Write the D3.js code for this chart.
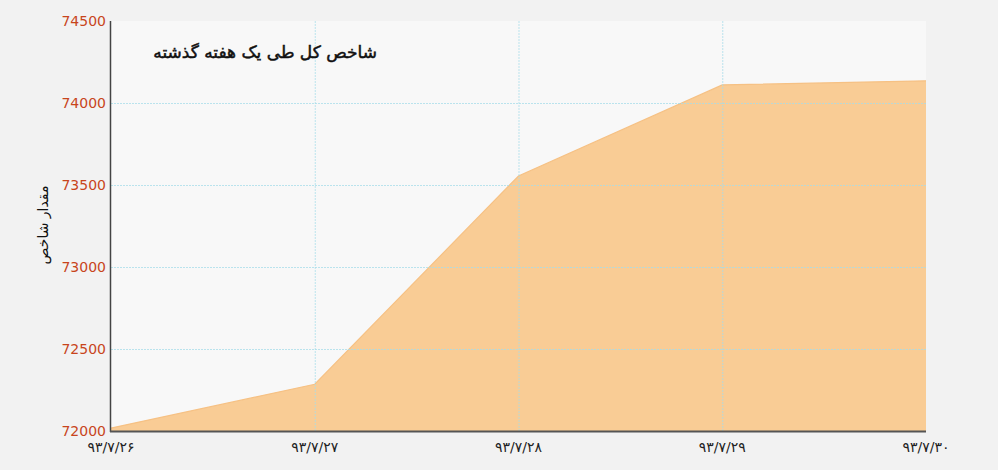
<!DOCTYPE html>
<html>
<head>
<meta charset="utf-8">
<script src="https://cdn.jsdelivr.net/npm/d3@7"></script>
<style>
  body { margin: 0; background: #f2f2f2; }
  svg { display: block; }
</style>
</head>
<body>
<svg></svg>
<script>
const dates = ["۹۳/۷/۲۶", "۹۳/۷/۲۷", "۹۳/۷/۲۸", "۹۳/۷/۲۹", "۹۳/۷/۳۰"];
const values = [72018, 72285, 73555, 74110, 74135];
const yTicks = [72000, 72500, 73000, 73500, 74000, 74500];

const width = 998, height = 470;
const margin = {top: 21, right: 72, bottom: 40, left: 111};

const svg = d3.select("svg").attr("width", width).attr("height", height);

const x = d3.scalePoint().domain(dates).range([margin.left, width - margin.right]);
const y = d3.scaleLinear().domain([72000, 74500]).range([height - margin.bottom + 1, margin.top]);

// plot background
svg.append("rect")
    .attr("x", margin.left).attr("y", margin.top)
    .attr("width", x.range()[1] - margin.left)
    .attr("height", y(72000) - margin.top)
    .attr("fill", "#f8f8f8");

const data = dates.map((d, i) => ({d, v: values[i]}));

const area = d3.area()
    .x(p => x(p.d))
    .y0(y(72000))
    .y1(p => y(p.v));

svg.append("path")
    .datum(data)
    .attr("d", area)
    .attr("fill", "#f9cc95");

svg.append("path")
    .datum(data)
    .attr("d", d3.line().x(p => x(p.d)).y(p => y(p.v)))
    .attr("fill", "none")
    .attr("stroke", "#f6c184")
    .attr("stroke-width", 1.2);

// grid
const grid = svg.append("g")
    .attr("stroke", "#a6dcea")
    .attr("stroke-opacity", 0.75)
    .attr("stroke-dasharray", "2,1");

grid.selectAll(".hg")
    .data(yTicks.slice(1, -1))
    .enter().append("line")
    .attr("x1", margin.left).attr("x2", x.range()[1])
    .attr("y1", d => y(d) + 0.5).attr("y2", d => y(d) + 0.5);

grid.selectAll(".vg")
    .data(dates.slice(1, -1))
    .enter().append("line")
    .attr("x1", d => x(d) + 0.5).attr("x2", d => x(d) + 0.5)
    .attr("y1", margin.top).attr("y2", y(72000));

// axes lines
svg.append("line")
    .attr("x1", margin.left - 0.5).attr("x2", margin.left - 0.5)
    .attr("y1", margin.top).attr("y2", y(72000) + 1)
    .attr("stroke", "#444").attr("stroke-width", 1.5);

svg.append("line")
    .attr("x1", margin.left - 1).attr("x2", x.range()[1])
    .attr("y1", y(72000) + 0.5).attr("y2", y(72000) + 0.5)
    .attr("stroke", "#555").attr("stroke-width", 2);

// y tick labels
svg.selectAll(".yl")
    .data(yTicks)
    .enter().append("text")
    .attr("x", margin.left - 5)
    .attr("y", d => y(d) + 5)
    .attr("text-anchor", "end")
    .attr("font-family", "DejaVu Sans, sans-serif")
    .attr("font-size", 14)
    .attr("fill", "#c8451c")
    .text(d => d);

// x tick labels
svg.selectAll(".xl")
    .data(dates)
    .enter().append("text")
    .attr("x", d => x(d))
    .attr("y", 452)
    .attr("text-anchor", "middle")
    .attr("font-family", "DejaVu Sans, sans-serif")
    .attr("font-size", 14)
    .attr("fill", "#222")
    .text(d => d);

// title (rtl: anchor "start" is the right edge)
svg.append("text")
    .attr("x", 377).attr("y", 58)
    .attr("text-anchor", "start")
    .attr("direction", "rtl")
    .attr("font-family", "DejaVu Sans, sans-serif")
    .attr("font-size", 17)
    .attr("fill", "#111")
    .attr("stroke", "#111")
    .attr("stroke-width", 0.5)
    .text("شاخص کل طی یک هفته گذشته");

// y axis title
svg.append("text")
    .attr("transform", "translate(48,225) rotate(-90)")
    .attr("text-anchor", "middle")
    .attr("direction", "rtl")
    .attr("font-family", "DejaVu Sans, sans-serif")
    .attr("font-size", 14)
    .attr("fill", "#111")
    .text("مقدار شاخص");
</script>
</body>
</html>
